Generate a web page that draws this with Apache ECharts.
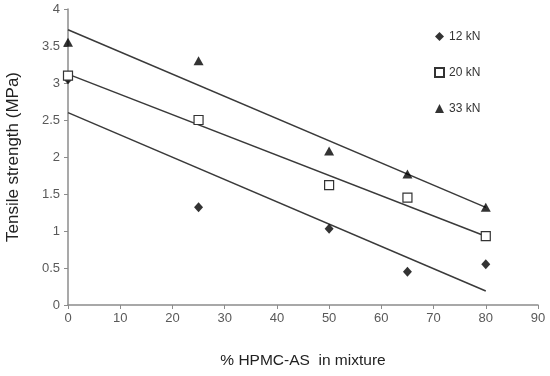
<!DOCTYPE html>
<html><head><meta charset="utf-8">
<script src="https://cdn.jsdelivr.net/npm/echarts@6/dist/echarts.min.js"></script>
<style>html,body{margin:0;padding:0;background:#fff}#c{width:550px;height:376px}</style>
</head><body><div id="c"></div>
<script>
const xValues = [0, 25, 50, 65, 80];
const s12 = [3.05, 1.32, 1.03, 0.45, 0.55];
const s20 = [3.10, 2.50, 1.62, 1.45, 0.93];
const s33 = [3.55, 3.30, 2.08, 1.77, 1.32];
const trendX = [0, 80];
const trend12 = [2.60, 0.19];
const trend20 = [3.12, 0.93];
const trend33 = [3.72, 1.32];
const names = ['12 kN', '20 kN', '33 kN'];

const pairs = (xs, ys) => xs.map((x, i) => [x, ys[i]]);
const font = 'Liberation Sans, Arial, sans-serif';
const trendStyle = {type:'line', symbol:'none', silent:true, lineStyle:{color:'#3a3a3a', width:1.5}, z:1};

const chart = echarts.init(document.getElementById('c'));
chart.setOption({
  animation:false,
  backgroundColor:'#fff',
  grid:{left:68, right:12, top:9, bottom:71, outerBoundsMode:'none', containLabel:false},
  xAxis:{type:'value', min:0, max:90, interval:10,
    axisLine:{lineStyle:{color:'#8c8c8c', width:1.5}},
    axisTick:{show:true, length:4, lineStyle:{color:'#8c8c8c'}},
    axisLabel:{color:'#595959', fontSize:13, fontFamily:font, margin:7},
    splitLine:{show:false},
    name:'% HPMC-AS  in mixture', nameLocation:'middle', nameGap:48,
    nameTextStyle:{color:'#222', fontSize:15.5, fontFamily:font}},
  yAxis:{type:'value', min:0, max:4, interval:0.5,
    axisLine:{show:true, lineStyle:{color:'#8c8c8c', width:1.5}},
    axisTick:{show:true, length:4, lineStyle:{color:'#8c8c8c'}},
    axisLabel:{color:'#595959', fontSize:13, fontFamily:font, margin:8},
    splitLine:{show:false},
    name:'Tensile strength (MPa)', nameLocation:'middle', nameGap:46,
    nameTextStyle:{color:'#222', fontSize:17, fontFamily:font}},
  legend:{orient:'vertical', left:429, top:25, itemGap:23, itemWidth:9, itemHeight:9,
    data:names, textStyle:{color:'#333', fontSize:12, lineHeight:13, fontFamily:font}},
  series:[
    Object.assign({data:pairs(trendX, trend12)}, trendStyle),
    Object.assign({data:pairs(trendX, trend20)}, trendStyle),
    Object.assign({data:pairs(trendX, trend33)}, trendStyle),
    {name:names[0], type:'scatter', symbol:'diamond', symbolSize:[9,10], data:pairs(xValues, s12),
      itemStyle:{color:'#000'}, z:3},
    {name:names[1], type:'scatter', symbol:'rect', symbolSize:9, data:pairs(xValues, s20),
      itemStyle:{color:'#fff', borderColor:'#333', borderWidth:1.2, opacity:1}, z:3},
    {name:names[2], type:'scatter', symbol:'triangle', symbolSize:[10,9], data:pairs(xValues, s33),
      itemStyle:{color:'#000'}, z:3}
  ]
});
</script></body></html>
